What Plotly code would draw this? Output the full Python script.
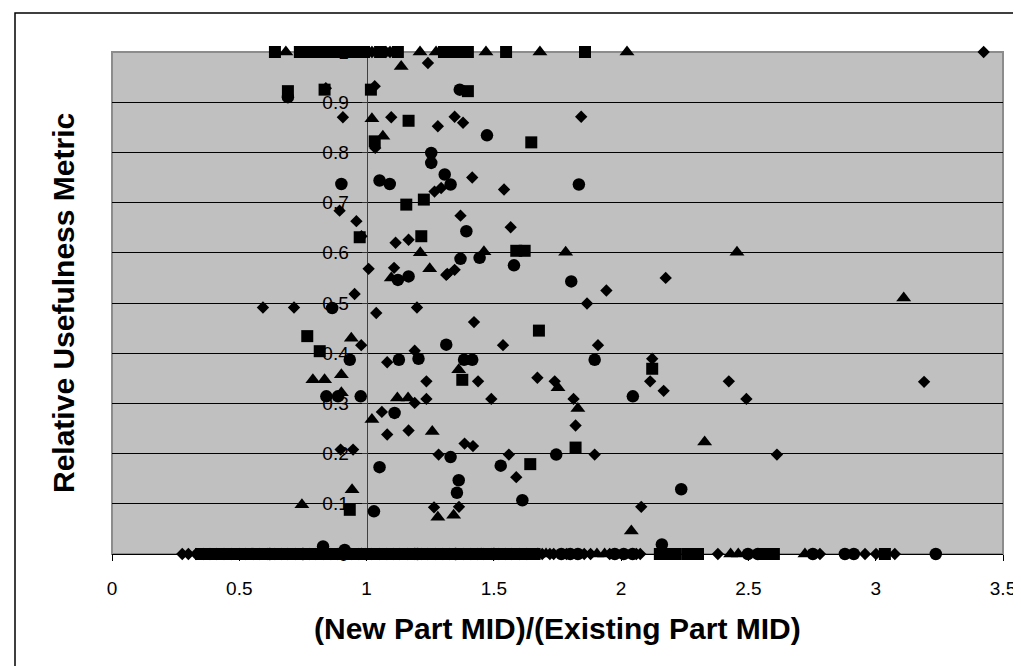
import plotly.graph_objects as go

# ---------------- data ----------------
x_ticks = [0, 0.5, 1, 1.5, 2, 2.5, 3, 3.5]
x_ticktext = ["0", "0.5", "1", "1.5", "2", "2.5", "3", "3.5"]
y_ticks = [0, 0.1, 0.2, 0.3, 0.4, 0.5, 0.6, 0.7, 0.8, 0.9, 1.0]
y_ticktext = ["0", "0.1", "0.2", "0.3", "0.4", "0.5", "0.6", "0.7", "0.8", "0.9", "1"]

# Series 1: diamonds
dia_x = [0.907, 1.032, 1.097, 1.280, 1.241, 1.034, 1.267, 1.293, 0.894, 0.960, 1.346, 1.379,
         1.843, 1.415, 1.540, 1.369, 1.566, 0.840, 0.980, 1.114, 1.165, 1.008, 1.108, 1.313,
         0.953, 0.593, 0.715, 1.038, 1.198, 0.979, 1.081, 1.189, 1.235, 1.235, 1.189, 1.060,
         1.081, 1.165, 0.898, 0.947, 1.283, 1.265, 1.317, 1.346, 2.175, 1.942, 1.866, 1.422,
         1.536, 1.909, 2.122, 1.438, 1.671, 1.739, 2.114, 2.167, 2.423, 2.492, 1.490, 1.813,
         1.821, 1.385, 1.418, 1.559, 1.896, 1.588, 1.363, 2.079, 2.612, 3.190]
dia_y = [0.870, 0.932, 0.870, 0.852, 0.978, 0.809, 0.722, 0.729, 0.684, 0.663, 0.871, 0.859,
         0.871, 0.750, 0.726, 0.674, 0.651, 0.928, 0.633, 0.620, 0.626, 0.568, 0.570, 0.556,
         0.518, 0.491, 0.491, 0.480, 0.491, 0.416, 0.382, 0.405, 0.344, 0.309, 0.301, 0.283,
         0.238, 0.246, 0.208, 0.208, 0.198, 0.093, 0.558, 0.566, 0.550, 0.525, 0.499, 0.462,
         0.416, 0.416, 0.389, 0.344, 0.351, 0.344, 0.344, 0.325, 0.344, 0.309, 0.309, 0.309,
         0.256, 0.220, 0.215, 0.198, 0.198, 0.153, 0.094, 0.094, 0.198, 0.343]
dia_top_x = [1.021, 1.076, 1.092, 3.424]
dia_bottom_x = [0.276, 0.300, 0.330, 0.360, 0.385, 0.410, 0.440, 0.470, 0.500, 0.525, 0.555,
                0.580, 0.610, 0.640, 0.665, 0.690, 0.720, 0.750, 0.775, 0.800, 0.830, 0.860,
                0.885, 0.910, 0.940, 0.970, 0.995, 1.020, 1.050, 1.080, 1.105, 1.130, 1.160,
                1.190, 1.215, 1.240, 1.270, 1.300, 1.325, 1.350, 1.380, 1.410, 1.435, 1.460,
                1.490, 1.520, 1.545, 1.570, 1.600, 1.630, 1.690, 1.720, 1.735, 1.785, 1.855,
                1.880, 1.955, 2.060, 2.075, 2.380, 2.781, 2.958, 3.001, 3.075]

# Series 2: squares
sq_x = [0.691, 0.835, 1.017, 1.165, 1.032, 1.156, 1.225, 1.398, 1.647, 1.215, 0.973, 0.767,
        0.816, 1.588, 1.621, 1.677, 2.122, 1.376, 0.934, 1.821, 1.643]
sq_y = [0.922, 0.925, 0.925, 0.863, 0.822, 0.696, 0.706, 0.922, 0.820, 0.633, 0.631, 0.434,
        0.404, 0.604, 0.604, 0.445, 0.369, 0.347, 0.088, 0.212, 0.179]
sq_top_x = [0.640, 0.738, 0.770, 0.801, 0.833, 0.864, 0.896, 0.927, 0.958, 0.990, 1.053,
            1.123, 1.304, 1.335, 1.367, 1.398, 1.548, 1.858]
sq_bottom_x = [0.350, 0.372, 0.400, 0.420, 0.445, 0.460, 0.490, 0.510, 0.535, 0.560, 0.585,
               0.600, 0.628, 0.650, 0.675, 0.700, 0.722, 0.740, 0.768, 0.790, 0.812, 0.840,
               0.862, 0.880, 0.905, 0.930, 0.955, 0.980, 1.000, 1.020, 1.045, 1.070, 1.095,
               1.120, 1.140, 1.160, 1.185, 1.210, 1.232, 1.250, 1.278, 1.300, 1.320, 1.340,
               1.365, 1.390, 1.415, 1.440, 1.460, 1.480, 1.505, 1.530, 1.550, 1.570, 1.595,
               1.610, 1.645, 1.660, 2.152, 2.184, 2.215, 2.262, 2.302, 2.565, 2.600, 3.036]

# Series 3: triangles
tri_x = [1.136, 1.021, 1.064, 1.211, 1.097, 1.248, 0.940, 0.789, 0.835, 0.901, 0.901, 1.121,
         1.163, 1.021, 1.258, 0.746, 0.943, 1.280, 1.461, 1.782, 2.455, 1.362, 1.752, 1.830,
         2.328, 1.342, 2.040, 3.110]
tri_y = [0.971, 0.867, 0.832, 0.600, 0.550, 0.568, 0.430, 0.347, 0.347, 0.357, 0.321, 0.311,
         0.311, 0.268, 0.244, 0.098, 0.128, 0.073, 0.602, 0.601, 0.601, 0.367, 0.331, 0.290,
         0.223, 0.077, 0.046, 0.510]
tri_top_x = [0.683, 1.210, 1.273, 1.469, 1.681, 2.023]
tri_bottom_x = [0.550, 0.980, 1.190, 1.450, 1.673, 1.705, 1.905, 1.935, 2.430, 2.460, 2.722]

# Series 4: circles
cir_x = [0.691, 1.254, 1.254, 1.307, 0.901, 1.051, 1.091, 1.366, 1.473, 1.330, 1.834, 1.392,
         1.123, 1.165, 0.865, 0.934, 1.127, 1.204, 1.313, 0.842, 0.888, 0.977, 1.110, 1.051,
         1.029, 0.829, 1.369, 1.444, 1.579, 1.804, 1.383, 1.415, 1.896, 2.046, 1.330, 1.745,
         1.527, 1.362, 1.355, 1.612, 2.236, 2.160, 0.914]
cir_y = [0.910, 0.799, 0.779, 0.756, 0.737, 0.744, 0.737, 0.925, 0.834, 0.736, 0.736, 0.643,
         0.546, 0.553, 0.490, 0.387, 0.387, 0.389, 0.417, 0.314, 0.314, 0.314, 0.281, 0.173,
         0.085, 0.015, 0.588, 0.590, 0.575, 0.543, 0.387, 0.387, 0.387, 0.314, 0.193, 0.198,
         0.176, 0.147, 0.122, 0.107, 0.129, 0.019, 0.008]
cir_bottom_x = [0.620, 0.750, 1.200, 1.350, 1.500, 1.765, 1.800, 1.830, 1.975, 2.010, 2.045,
                2.498, 2.537, 2.753, 2.879, 2.914, 3.236]

TOP = 1.0
BOTTOM = 0.0

# ---------------- figure ----------------
W, H = 1021, 666
L, R, T, B = 104, 26, 44, 120
plot_w = W - L - R
plot_h = H - T - B


def px_to_paper_x(px):
    return (px - L) / plot_w


def px_to_paper_y(py):
    return (H - B - py) / plot_h


fig = go.Figure()

series = [
    ("diamond", 9.5, dia_x, dia_y, dia_top_x, dia_bottom_x),
    ("square", 12, sq_x, sq_y, sq_top_x, sq_bottom_x),
    ("triangle-up", 13, tri_x, tri_y, tri_top_x, tri_bottom_x),
    ("circle", 12.5, cir_x, cir_y, [], cir_bottom_x),
]
for sym, size, xs, ys, tx, bx in series:
    all_x = list(xs) + list(tx) + list(bx)
    all_y = list(ys) + [TOP] * len(tx) + [BOTTOM] * len(bx)
    fig.add_trace(go.Scatter(
        x=all_x, y=all_y, mode="markers", cliponaxis=False, hoverinfo="skip",
        marker=dict(symbol=sym, size=size, color="black", line=dict(width=0)),
    ))

font_family = "Arial, Liberation Sans, sans-serif"

fig.update_layout(
    width=W, height=H,
    margin=dict(l=L, r=R, t=T, b=B),
    paper_bgcolor="white",
    plot_bgcolor="rgba(0,0,0,0)",
    showlegend=False,
    font=dict(family=font_family, color="black", size=19),
    xaxis=dict(
        range=[0, 3.5], tickmode="array", tickvals=x_ticks, ticktext=x_ticktext,
        ticks="outside", ticklen=6, tickcolor="black", tickwidth=1,
        showline=True, linecolor="black", linewidth=1,
        showgrid=False, zeroline=False, layer="below traces",
        tickfont=dict(size=19, family=font_family, color="black"),
        ticklabelstandoff=11,
    ),
    yaxis=dict(
        range=[0, 1], tickmode="array", tickvals=y_ticks, ticktext=y_ticktext,
        anchor="free", position=1 / 3.5,
        ticks="outside", ticklen=5, tickcolor="#333333",
        showline=True, linecolor="#404040", linewidth=1,
        showgrid=True, gridcolor="black", gridwidth=1,
        zeroline=False, layer="below traces",
        tickfont=dict(size=19, family=font_family, color="black"),
        ticklabelstandoff=9,
    ),
    shapes=[
        # plot area fill and grey frame
        dict(type="rect", xref="paper", yref="paper", x0=0, x1=1, y0=0, y1=1,
             fillcolor="#C0C0C0", line=dict(color="#8C8C8C", width=2), layer="below"),
        # outer chart border
        dict(type="rect", xref="paper", yref="paper",
             x0=px_to_paper_x(7), x1=px_to_paper_x(1014),
             y0=px_to_paper_y(660), y1=px_to_paper_y(5),
             line=dict(color="black", width=1.5), layer="below"),
    ],
    annotations=[
        dict(text="<b>(New Part MID)/(Existing Part MID)</b>", xref="paper", yref="paper",
             x=0.5, y=px_to_paper_y(620), xanchor="center", yanchor="middle",
             showarrow=False, font=dict(size=30, family=font_family, color="black")),
        dict(text="<b>Relative Usefulness Metric</b>", xref="paper", yref="paper",
             x=px_to_paper_x(55), y=0.5, xanchor="center", yanchor="middle",
             textangle=-90, showarrow=False,
             font=dict(size=30, family=font_family, color="black")),
    ],
)

fig.write_html("out.html")
